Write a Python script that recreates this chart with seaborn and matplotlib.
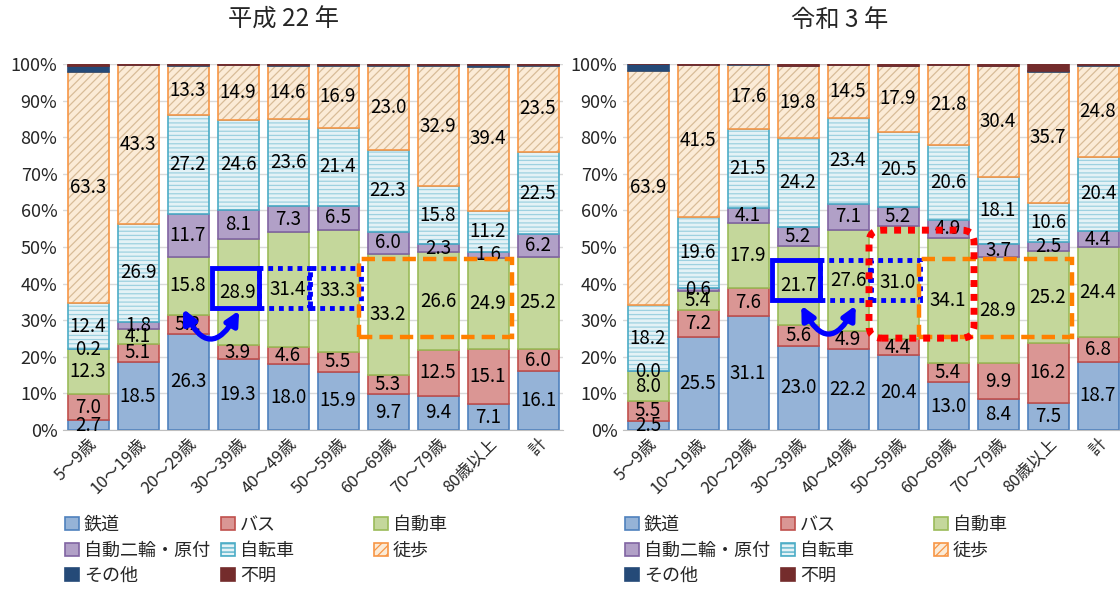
import numpy as np
import pandas as pd
import matplotlib
matplotlib.use("Agg")
import matplotlib.pyplot as plt
import seaborn as sns
from matplotlib.patches import Patch, Rectangle, FancyArrowPatch, FancyBboxPatch

# --- data (%) ---
ages = ['5～9歳', '10～19歳', '20～29歳', '30～39歳', '40～49歳',
        '50～59歳', '60～69歳', '70～79歳', '80歳以上', '計']
modes = ['鉄道', 'バス', '自動車', '自動二輪・原付', '自転車', '徒歩', 'その他', '不明']

# 平成22年
h22_rail = [2.7, 18.5, 26.3, 19.3, 18.0, 15.9, 9.7, 9.4, 7.1, 16.1]
h22_bus = [7.0, 5.1, 5.2, 3.9, 4.6, 5.5, 5.3, 12.5, 15.1, 6.0]
h22_car = [12.3, 4.1, 15.8, 28.9, 31.4, 33.3, 33.2, 26.6, 24.9, 25.2]
h22_moto = [0.2, 1.8, 11.7, 8.1, 7.3, 6.5, 6.0, 2.3, 1.6, 6.2]
h22_bike = [12.4, 26.9, 27.2, 24.6, 23.6, 21.4, 22.3, 15.8, 11.2, 22.5]
h22_walk = [63.3, 43.3, 13.3, 14.9, 14.6, 16.9, 23.0, 32.9, 39.4, 23.5]
h22_other = [1.6, 0.0, 0.1, 0.0, 0.1, 0.1, 0.1, 0.1, 0.3, 0.1]
h22_unknown = [0.5, 0.3, 0.4, 0.3, 0.4, 0.4, 0.4, 0.4, 0.4, 0.4]

# 令和3年
r3_rail = [2.5, 25.5, 31.1, 23.0, 22.2, 20.4, 13.0, 8.4, 7.5, 18.7]
r3_bus = [5.5, 7.2, 7.6, 5.6, 4.9, 4.4, 5.4, 9.9, 16.2, 6.8]
r3_car = [8.0, 5.4, 17.9, 21.7, 27.6, 31.0, 34.1, 28.9, 25.2, 24.4]
r3_moto = [0.0, 0.6, 4.1, 5.2, 7.1, 5.2, 4.9, 3.7, 2.5, 4.4]
r3_bike = [18.2, 19.6, 21.5, 24.2, 23.4, 20.5, 20.6, 18.1, 10.6, 20.4]
r3_walk = [63.9, 41.5, 17.6, 19.8, 14.5, 17.9, 21.8, 30.4, 35.7, 24.8]
r3_other = [1.9, 0.0, 0.2, 0.0, 0.0, 0.1, 0.0, 0.1, 0.3, 0.1]
r3_unknown = [0.0, 0.2, 0.0, 0.5, 0.3, 0.5, 0.2, 0.5, 2.0, 0.4]

h22 = pd.DataFrame(dict(zip(modes, [h22_rail, h22_bus, h22_car, h22_moto, h22_bike,
                                     h22_walk, h22_other, h22_unknown])), index=ages)
r3 = pd.DataFrame(dict(zip(modes, [r3_rail, r3_bus, r3_car, r3_moto, r3_bike,
                                    r3_walk, r3_other, r3_unknown])), index=ages)

# face, edge, hatch, hatch colour
styles = {
    '鉄道': ('#95B3D7', '#4F81BD', None, None),
    'バス': ('#DA9694', '#C0504D', None, None),
    '自動車': ('#C4D79B', '#9BBB59', None, None),
    '自動二輪・原付': ('#B1A0C7', '#8064A2', None, None),
    '自転車': ('#E4F2F6', '#4BACC6', '----', '#9DD1E0'),
    '徒歩': ('#FBEBD7', '#F79646', '////', '#D8BC98'),
    'その他': ('#254A78', '#254A78', None, None),
    '不明': ('#742C2C', '#742C2C', None, None),
}
labelled = modes[:6]

sns.set_style("white")
plt.rcParams['font.family'] = ['Noto Sans CJK JP', 'DejaVu Sans']
plt.rcParams['hatch.linewidth'] = 0.9

fig = plt.figure(figsize=(11.2, 5.9), dpi=100)
W, H = 1120, 590


def px_axes(x0, y0, x1, y1):
    return fig.add_axes([x0 / W, 1 - y1 / H, (x1 - x0) / W, (y1 - y0) / H])


def draw_panel(ax, df):
    bottom = np.zeros(len(df))
    for m in modes:
        face, edge, hatch, hcol = styles[m]
        vals = df[m].values
        if hatch:
            # hatched fill first, then the outline on top
            sns.barplot(x=ages, y=vals, bottom=bottom, ax=ax, color=face, saturation=1,
                        errorbar=None, width=0.82, facecolor=face,
                        edgecolor=hcol, hatch=hatch, linewidth=0)
            sns.barplot(x=ages, y=vals, bottom=bottom, ax=ax, color=edge, saturation=1,
                        errorbar=None, width=0.82, fill=False,
                        edgecolor=edge, linewidth=1.2)
        else:
            sns.barplot(x=ages, y=vals, bottom=bottom, ax=ax, color=face, saturation=1,
                        errorbar=None, width=0.82, facecolor=face,
                        edgecolor=edge, linewidth=1.2)
        if m in labelled:
            ax.bar_label(ax.containers[-1], labels=[f"{v:.1f}" for v in vals],
                         label_type='center', fontsize=13.5, color='black')
        bottom = bottom + vals

    ax.set_ylim(0, 100)
    ax.set_xlim(-0.5, 9.5)
    ax.set_yticks(range(0, 101, 10))
    ax.set_yticklabels([f"{t}%" for t in range(0, 101, 10)], fontsize=13)
    ax.set_xticks(range(len(ages)))
    ax.set_xticklabels(ages, rotation=45, ha='right', rotation_mode='anchor', fontsize=12)
    ax.tick_params(length=0, pad=4)
    ax.yaxis.grid(True, color='#D9D9D9', linewidth=1)
    ax.set_axisbelow(True)
    for s in ['top', 'right', 'left']:
        ax.spines[s].set_visible(False)
    ax.spines['bottom'].set_color('#BFBFBF')
    ax.set_xlabel('')
    ax.set_ylabel('')


def box(ax, x0, x1, y0, y1, color, ls, lw):
    ax.add_patch(Rectangle((x0, y0), x1 - x0, y1 - y0, fill=False, edgecolor=color,
                           linestyle=ls, linewidth=lw, zorder=6, clip_on=False))


def curved_arrow(ax, p0, p1):
    ax.add_patch(FancyArrowPatch(p0, p1, arrowstyle='<|-|>', mutation_scale=20,
                                 connectionstyle='arc3,rad=1.0', color='#0000FF',
                                 linewidth=3.8, zorder=7, clip_on=False))


def legend_cols(x_cols):
    order = [['鉄道', '自動二輪・原付', 'その他'], ['バス', '自転車', '不明'], ['自動車', '徒歩']]
    for xc, names in zip(x_cols, order):
        handles = []
        for n in names:
            face, edge, hatch, hcol = styles[n]
            handles.append(Patch(facecolor=face, edgecolor=edge, hatch=hatch, linewidth=1.2))
        fig.legend(handles=handles, labels=names, loc='upper left',
                   bbox_to_anchor=(xc / W, 1 - 516 / H), frameon=False, fontsize=13,
                   handlelength=0.75, handleheight=0.75, handletextpad=0.3,
                   labelspacing=0.42, borderpad=0, borderaxespad=0)


dotted = (0, (1, 1))
dashed = (0, (3, 1.6))

# --- 平成22年 ---
ax1 = px_axes(63, 64, 563, 430)
draw_panel(ax1, h22)
fig.text(284 / W, 1 - 20 / H, '平成 22 年', ha='center', va='center', fontsize=17.5)
box(ax1, 2.48, 3.42, 33.3, 44.3, '#0000FF', '-', 3.5)
box(ax1, 3.42, 4.42, 33.3, 44.3, '#0000FF', dotted, 3.5)
box(ax1, 4.44, 5.45, 33.3, 44.3, '#0000FF', dotted, 3.5)
box(ax1, 5.42, 8.48, 25.4, 46.7, '#FF8000', dashed, 3.2)
curved_arrow(ax1, (1.88, 33.8), (3.05, 33.3))
legend_cols([65, 221, 374])

# --- 令和3年 ---
ax2 = px_axes(623, 64, 1123, 430)
draw_panel(ax2, r3)
fig.text(840 / W, 1 - 20 / H, '令和 3 年', ha='center', va='center', fontsize=17.5)
box(ax2, 2.48, 3.44, 35.5, 46.4, '#0000FF', '-', 3.5)
box(ax2, 3.44, 4.44, 35.5, 46.4, '#0000FF', dotted, 3.5)
box(ax2, 4.46, 5.44, 35.5, 46.4, '#0000FF', dotted, 3.5)
box(ax2, 5.42, 8.48, 25.4, 46.7, '#FF8000', dashed, 3.2)
ax2.add_patch(FancyBboxPatch((4.42, 25.1), 2.1, 29.5,
                             boxstyle='round,pad=0,rounding_size=0.25', mutation_aspect=13.7,
                             fill=False, edgecolor='#FF0000', linestyle=dotted, linewidth=5,
                             zorder=6, clip_on=False))
curved_arrow(ax2, (3.04, 34.7), (4.18, 34.7))
legend_cols([625, 781, 934])

fig.savefig('out.png', dpi=100)
